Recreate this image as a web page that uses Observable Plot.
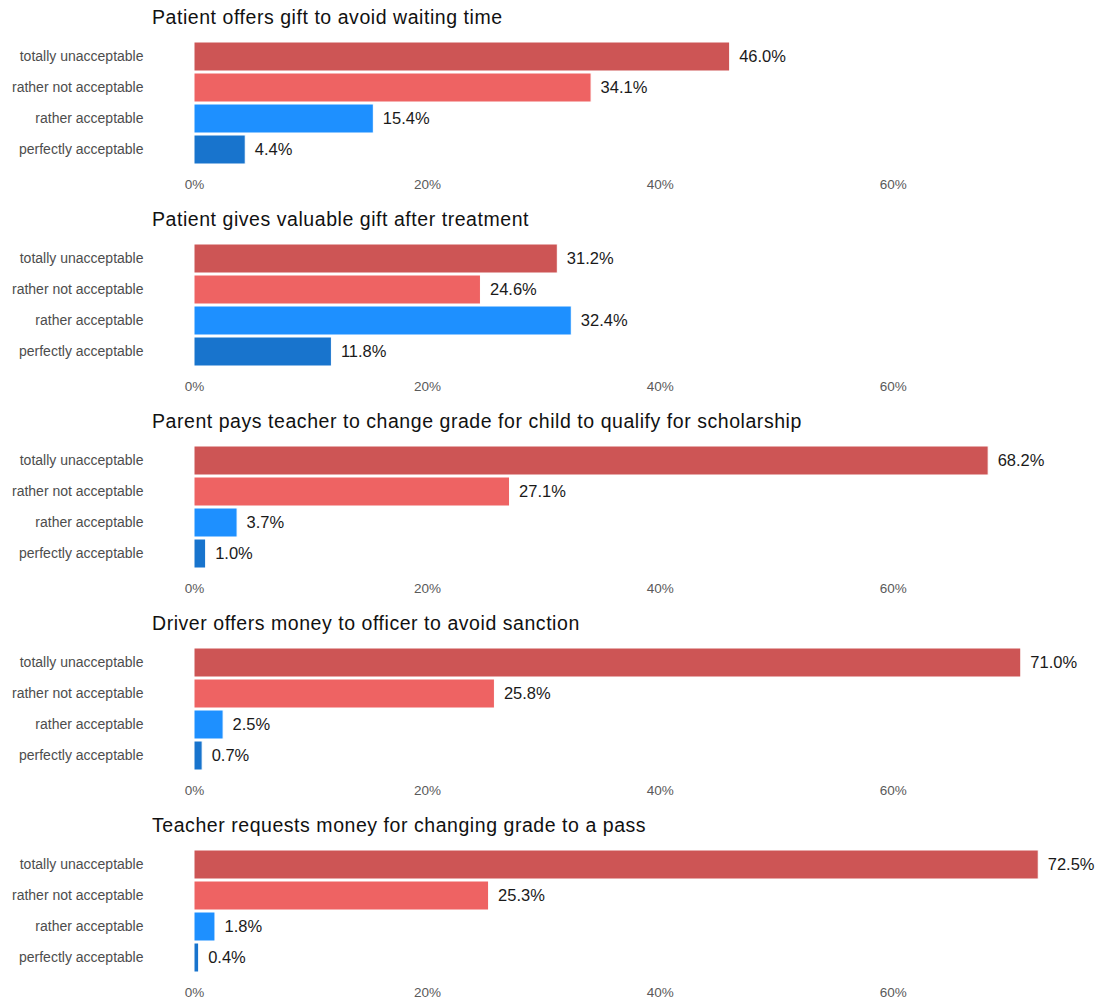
<!DOCTYPE html>
<html>
<head>
<meta charset="utf-8">
<script src="https://cdn.jsdelivr.net/npm/d3@7"></script>
<script src="https://cdn.jsdelivr.net/npm/@observablehq/plot@0.6"></script>
<style>
  html, body { margin: 0; padding: 0; background: #fff; }
  body { width: 1102px; height: 1003px; overflow: hidden; font-family: "Liberation Sans", Arial, sans-serif; }
  .panel { height: 202px; position: relative; }
  .title { height: 32px; line-height: 34px; padding-left: 152px; font-size: 19.5px; letter-spacing: 0.55px; color: #111; white-space: nowrap; }
  svg { display: block; }
</style>
</head>
<body>
<div id="chart"></div>
<script>
const categories = ["totally unacceptable", "rather not acceptable", "rather acceptable", "perfectly acceptable"];
const colors = ["#CD5555", "#EE6363", "#1E90FF", "#1874CD"];
const titles = [
  "Patient offers gift to avoid waiting time",
  "Patient gives valuable gift after treatment",
  "Parent pays teacher to change grade for child to qualify for scholarship",
  "Driver offers money to officer to avoid sanction",
  "Teacher requests money for changing grade to a pass"
];
const giftWaiting = [46.0, 34.1, 15.4, 4.4];
const giftAfter = [31.2, 24.6, 32.4, 11.8];
const parentPays = [68.2, 27.1, 3.7, 1.0];
const driverOffers = [71.0, 25.8, 2.5, 0.7];
const teacherRequests = [72.5, 25.3, 1.8, 0.4];
const xTicks = [0, 20, 40, 60];

const seriesList = [giftWaiting, giftAfter, parentPays, driverOffers, teacherRequests];
const root = document.getElementById("chart");

seriesList.forEach((vals, i) => {
  const data = categories.map((c, j) => ({category: c, value: vals[j]}));
  const panel = document.createElement("div");
  panel.className = "panel";
  const t = document.createElement("div");
  t.className = "title";
  t.textContent = titles[i];
  panel.appendChild(t);
  const plot = Plot.plot({
    width: 1102,
    height: 170,
    marginLeft: 194,
    marginRight: 23,
    marginTop: 7,
    marginBottom: 35,
    style: {fontFamily: "Liberation Sans, Arial, sans-serif", background: "#fff"},
    x: {domain: [0, 76], ticks: xTicks, tickFormat: d => d + "%", tickSize: 0, tickPadding: 12, label: null},
    y: {domain: categories, padding: 0.08, tickSize: 0, tickPadding: 51, label: null},
    color: {domain: categories, range: colors},
    marks: [
      Plot.barX(data, {y: "category", x: "value", fill: "category", stroke: "#fff", strokeWidth: 1}),
      Plot.text(data, {y: "category", x: "value", text: d => d3.format(".1f")(d.value) + "%", dx: 9, textAnchor: "start", fontSize: 16.5, fill: "#1a1a1a"}),
      Plot.axisX({ticks: xTicks, tickFormat: d => d + "%", tickSize: 0, tickPadding: 12, fontSize: 13.5, color: "#5a5a5a", label: null}),
      Plot.axisY({tickSize: 0, tickPadding: 51, fontSize: 14, color: "#4d4d4d", label: null})
    ]
  });
  panel.appendChild(plot);
  root.appendChild(panel);
});
</script>
</body>
</html>
